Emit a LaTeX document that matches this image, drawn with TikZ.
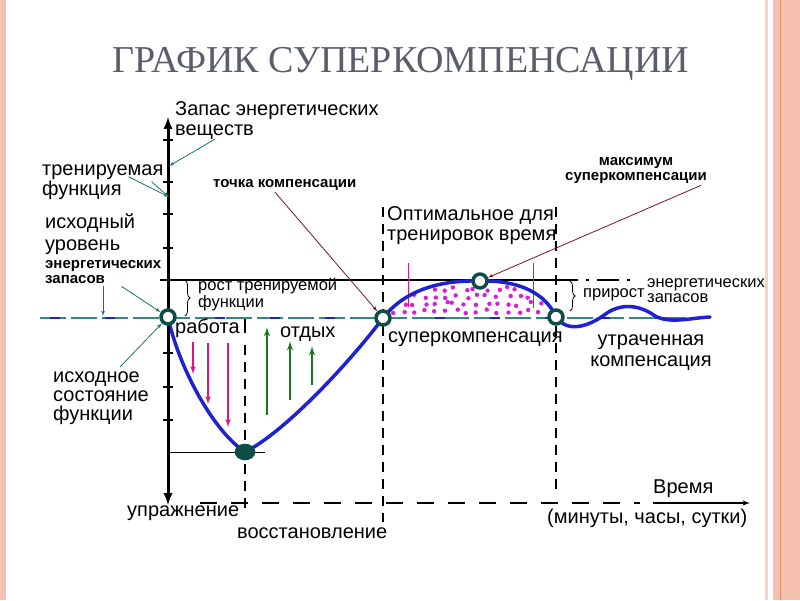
\documentclass[tikz,border=0pt]{standalone}
\usepackage{fontspec}
\setmainfont{Liberation Sans}
\newfontfamily\titlefont{Liberation Serif}
\usetikzlibrary{arrows,positioning,calc,decorations.pathreplacing,shapes.geometric}
\definecolor{slidegray}{HTML}{5A5E6B}
\definecolor{stripe}{HTML}{F4C0AF}
\definecolor{stripeline}{HTML}{E98B63}
\definecolor{curveblue}{HTML}{1E22D2}
\definecolor{ringteal}{HTML}{0E4C48}
\definecolor{ptrteal}{HTML}{1F7068}
\definecolor{baseteal}{HTML}{2A8C82}
\definecolor{workpink}{HTML}{E0147E}
\definecolor{dotpink}{HTML}{D81ED8}
\definecolor{restgreen}{HTML}{1C761C}
\definecolor{ptrred}{HTML}{7A1424}
\tikzset{
biglbl/.style = {font=\fontsize{20}{20}\selectfont, inner sep=0pt, anchor=base west, align=left},
midlbl/.style = {font=\fontsize{16.5}{15}\selectfont, inner sep=0pt, anchor=base west, align=left},
boldlbl/.style = {font=\fontsize{15}{15}\selectfont\bfseries, inner sep=0pt, anchor=base west, align=left},
ring/.style = {draw=ringteal, line width=3.5pt, fill=white, circle, inner sep=0pt, minimum size=14pt},
tealptr/.style = {draw=ptrteal, thick, ->},
redptr/.style = {draw=ptrred, thick, ->},
work/.style = {draw=workpink, line width=1.6pt, ->},
rest/.style = {draw=restgreen, line width=2.2pt, ->},
vdash/.style = {black, line width=1.4pt, dash pattern=on 10pt off 7pt},
brc/.style = {black, thick, decorate, decoration={brace, amplitude=5pt}}
}
\begin{document}
\begin{tikzpicture}[x=1pt, y=-1pt, >=latex']
    \useasboundingbox (0,0) rectangle (800,600);
    % slide frame
    \fill[stripe] (0,0) rectangle (6,600);
    \fill[stripe!70] (765,0) rectangle (768,600);
    \fill[stripe] (773,0) rectangle (800,600);
    \draw[stripeline] (780,0) -- (780,600);
    \node[font=\titlefont\fontsize{38}{40}\selectfont, text=slidegray, anchor=base] (title) at (401,72) {ГРАФИК СУПЕРКОМПЕНСАЦИИ};

    % key points of the curve
    \coordinate (s0) at (168,317);
    \coordinate (mn) at (245,452);
    \coordinate (cp) at (383,318);
    \coordinate (mx) at (480,281);
    \coordinate (sc) at (556,317);

    % levels and time marks
    \draw[black, line width=1.6pt] (160,280) -- (556,280);
    \draw[black, line width=1.6pt, dash pattern=on 22pt off 8pt on 3pt off 8pt] (556,280) -- (636,280);
    \draw[black, thin] (168,452) -- (265,452);
    \draw[black, line width=1.5pt] (245,318) -- (245,333);
    \draw[vdash] (245,345) -- (245,515);
    \draw[vdash] (383,207) -- (383,522);
    \draw[vdash] (556,207) -- (556,495);
    \draw[black, line width=1.5pt, dash pattern=on 17pt off 14pt] (200,503) -- (640,503);
    \coordinate (t0) at (653,503);
    \coordinate (t1) at (750,503);
    \draw[black, line width=1.5pt, ->] (t0) -- (t1);

    % initial level
    \draw[baseteal, line width=2.2pt, dash pattern=on 26pt off 5pt] (40,318) -- (710,318);
    \draw[curveblue, line width=2.2pt, dash pattern=on 10pt off 45pt] (50,318) -- (710,318);

    % supercompensation area
    \begin{scope}
        \clip (cp) .. controls (405,290) and (440,280) .. (mx) .. controls (520,280) and (546,294) .. (sc) -- cycle;
        \pgfmathsetseed{11}
        \foreach \i in {0,...,15}
            \foreach \j in {0,...,3}
                \fill[dotpink] ({392+10.5*\i+3.5*rand},{289+7.5*\j+2*rand}) circle (2.2pt);
    \end{scope}
    \draw[workpink, thin] (408,263) -- (408,307);
    \draw[workpink, thin] (533,263) -- (533,308);

    % the curve
    \draw[curveblue, line width=3.5pt, line cap=round, line join=round]
        (s0) .. controls (178,365) and (212,430) .. (mn)
        .. controls (285,432) and (350,362) .. (cp)
        .. controls (405,290) and (440,280) .. (mx)
        .. controls (520,280) and (546,294) .. (sc)
        .. controls (568,334) and (590,326) .. (607,313)
        .. controls (622,303) and (640,305) .. (655,316)
        .. controls (670,324) and (690,318) .. (710,317);

    % axis
    \draw[black, line width=3pt, <->, >=latex] (168,505) -- (168,117);
    \foreach \y in {140,182,214,248,353,387,420}
        \draw[black, line width=1.2pt] (163,\y) -- (173,\y);

    % braces
    \draw[brc] (185,280) -- (185,316);
    \draw[brc] (570,281) -- (570,311);

    % work and rest arrows
    \draw[work] (193,342) -- (193,374);
    \draw[work] (208,343) -- (208,404);
    \draw[work] (228,343) -- (228,427);
    \draw[rest] (267,415) -- (267,327);
    \draw[rest] (290,400) -- (290,341);
    \draw[rest] (312,385) -- (312,346);

    % rings
    \node[ring] (s0r) at (s0) {};
    \node[ring, ellipse, minimum width=17pt, minimum height=13pt, fill=ringteal] (mnr) at (mn) {};
    \node[ring] (cpr) at (cp) {};
    \node[ring] (mxr) at (mx) {};
    \node[ring] (scr) at (sc) {};

    % labels (base = last line)
    \node[biglbl] (stock) at (175,135) {Запас энергетических\\веществ};
    \node[biglbl] (trainf) at (42,195) {тренируемая\\функция};
    \node[biglbl, font=\fontsize{20}{22}\selectfont] (startlvl) at (45,250) {исходный\\уровень};
    \node[boldlbl] (enl) at (45,283) {энергетических\\запасов};
    \node[biglbl, font=\fontsize{20}{19}\selectfont] (startst) at (53,420) {исходное\\состояние\\функции};
    \node[biglbl] (workl) at (175,333) {работа};
    \node[biglbl] (restl) at (280,337) {отдых};
    \node[midlbl] (growth) at (198,307) {рост тренируемой\\функции};
    \node[boldlbl] (cpl) at (213,187) {точка компенсации};
    \node[biglbl] (optl) at (387,240) {Оптимальное для\\тренировок время};
    \node[boldlbl, font=\fontsize{15}{14.5}\selectfont\bfseries, align=center, anchor=base] (mxl) at (636,180) {максимум\\суперкомпенсации};
    \node[biglbl] (scl) at (388,342) {суперкомпенсация};
    \node[midlbl] (enr) at (647,302) {энергетических\\запасов};
    \node[midlbl] (gain) at (583,297) {прирост};
    \node[biglbl, font=\fontsize{20}{20.5}\selectfont, align=center, anchor=base] (lost) at (651,366) {утраченная\\компенсация};
    \node[biglbl] (exl) at (127,516) {упражнение};
    \node[biglbl] (recl) at (237,538) {восстановление};
    \node[biglbl] (timel) at (653,493) {Время};
    \node[biglbl] (units) at (547,523) {(минуты, часы, сутки)};

    % pointers
    \coordinate (stk) at (169,166);
    \coordinate (trf) at (169,197);
    \coordinate (base) at (103,316);
    \draw[tealptr] ([xshift=40pt]stock.south west) -- (stk);
    \draw[tealptr] ([xshift=-35pt, yshift=5pt]trainf.east) -- (trf);
    \draw[tealptr] ([xshift=-12pt]trainf.east) -- (trf);
    \draw[tealptr] ([xshift=-40pt, yshift=-3pt]enl.south east) -- (s0r);
    \draw[tealptr] ([xshift=58pt, yshift=-3pt]enl.south west) -- (base);
    \draw[tealptr] ([xshift=67pt, yshift=4pt]startst.north west) -- (s0r);
    \draw[redptr] ([xshift=62pt, yshift=-2pt]cpl.south west) -- (cpr);
    \draw[redptr] ([xshift=65pt, yshift=-2pt]mxl.south) -- (mxr);
\end{tikzpicture}
\end{document}
